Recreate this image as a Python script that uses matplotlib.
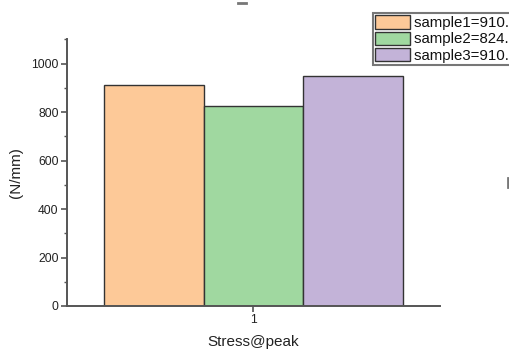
import matplotlib
matplotlib.use("Agg")
import matplotlib.pyplot as plt
from matplotlib.lines import Line2D
from matplotlib.ticker import MultipleLocator

plt.rcParams['font.family'] = ['Liberation Sans', 'DejaVu Sans']

categories = ["1"]
series_names = ["sample1=910. ", "sample2=824. ", "sample3=910. "]
series_values = [910, 824, 950]
colors = ["#FDC998", "#A0D8A0", "#C3B3D8"]
y_label = "(N/mm)"
x_label = "Stress@peak"

fig = plt.figure(figsize=(5.10, 3.52), dpi=100)
ax = fig.add_axes([0.1314, 0.1307, 0.7313, 0.7577])

group_width = 0.8
n = len(series_values)
w = group_width / n
handles = []
for i, (name, val, col) in enumerate(zip(series_names, series_values, colors)):
    x = 1 + (i - (n - 1) / 2) * w
    b = ax.bar(x, val, width=w, color=col, edgecolor="#333333", linewidth=1.0,
               label=name, zorder=2)
    handles.append(b)

ax.set_xlim(0.5, 1.5)
ax.set_ylim(0, 1100)
ax.set_xticks([1])
ax.set_xticklabels(categories)
ax.yaxis.set_major_locator(MultipleLocator(200))
ax.yaxis.set_minor_locator(MultipleLocator(100))

spine_col = "#555555"
for s in ["top", "right"]:
    ax.spines[s].set_visible(False)
for s in ["left", "bottom"]:
    ax.spines[s].set_color(spine_col)
    ax.spines[s].set_linewidth(1.4)
    ax.spines[s].set_zorder(3)

ax.tick_params(axis="both", which="major", direction="out", length=4,
               width=1.2, color=spine_col, labelsize=8.7, labelcolor="#222222",
               pad=2)
ax.tick_params(axis="y", which="minor", direction="out", length=2.5,
               width=1.0, color=spine_col)

ax.set_xlabel(x_label, fontsize=11, color="#222222", labelpad=6)
ax.set_ylabel(y_label, fontsize=11, color="#222222", labelpad=6)

leg = fig.legend(handles=handles, labels=series_names,
                 loc="upper left", bbox_to_anchor=(373 / 510, 1 - 13 / 352),
                 fontsize=10.8, frameon=True, fancybox=False,
                 handlelength=2.3, handleheight=1.0, handletextpad=0.3,
                 borderpad=0.15, labelspacing=0.1, borderaxespad=0)
leg.get_frame().set_edgecolor("#555555")
leg.get_frame().set_linewidth(1.5)
for t in leg.get_texts():
    t.set_color("#111111")

# small gray marks near the figure edges
fig.add_artist(Line2D([238 / 510, 246 / 510], [1 - 3 / 352, 1 - 3 / 352],
                      color="#777777", lw=2))
fig.add_artist(Line2D([508 / 510, 508 / 510], [1 - 178 / 352, 1 - 187 / 352],
                      color="#777777", lw=2))

fig.savefig("out.png", dpi=100)
